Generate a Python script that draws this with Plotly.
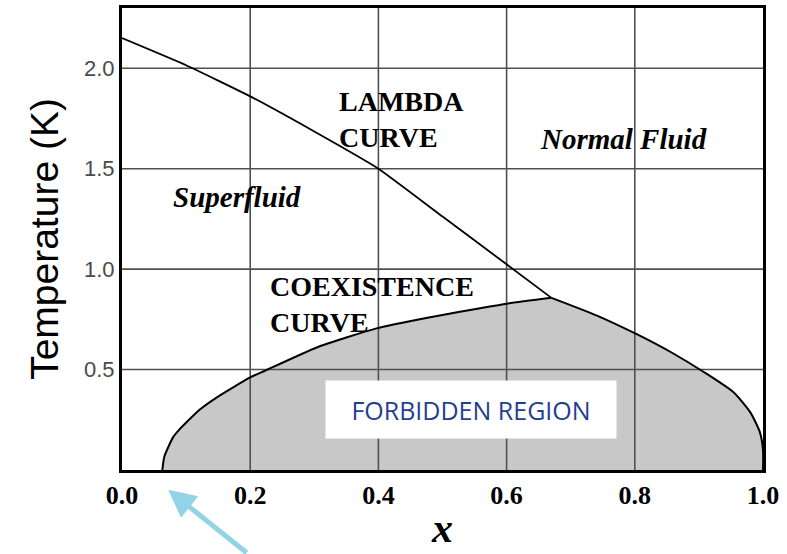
import plotly.graph_objects as go

# ---- data ----
x_ticks = [0.0, 0.2, 0.4, 0.6, 0.8, 1.0]
x_tick_labels = ["0.0", "0.2", "0.4", "0.6", "0.8", "1.0"]
y_ticks = [0.5, 1.0, 1.5, 2.0]
y_tick_labels = ["0.5", "1.0", "1.5", "2.0"]

lambda_x = [0.0, 0.1, 0.2, 0.3, 0.4, 0.5, 0.6, 0.67]
lambda_T = [2.15, 2.015, 1.86, 1.685, 1.50, 1.262, 1.024, 0.857]

# coexistence curve: left branch (up to tricritical point) and right branch
coex_left_x = [0.063, 0.066, 0.080, 0.089, 0.101, 0.121, 0.148, 0.200, 0.223, 0.304, 0.397,
               0.449, 0.50, 0.55, 0.60, 0.67]
coex_left_T = [0.0, 0.066, 0.165, 0.200, 0.239, 0.300, 0.362, 0.461, 0.494, 0.610, 0.705,
               0.741, 0.772, 0.800, 0.828, 0.857]
coex_right_x = [0.67, 0.74, 0.803, 0.86, 0.907, 0.954, 0.980, 0.995, 1.0, 1.0]
coex_right_T = [0.857, 0.770, 0.676, 0.580, 0.489, 0.387, 0.288, 0.190, 0.10, 0.0]

serif = "Liberation Serif, Times New Roman, serif"
sans = "Liberation Sans, Arial, sans-serif"
fill_grey = "#c8c8c8"

fig = go.Figure()

# forbidden region fill (each branch filled to T = 0)
for bx, bT in [(coex_left_x, coex_left_T), (coex_right_x, coex_right_T)]:
    fig.add_trace(go.Scatter(x=bx, y=bT, mode="lines", fill="tozeroy", fillcolor=fill_grey,
                             line=dict(width=0, shape="spline", smoothing=0.6),
                             hoverinfo="skip", showlegend=False))
# cover the seam between the two filled branches
fig.add_trace(go.Scatter(x=[coex_left_x[-1]] * 2, y=[0, coex_left_T[-1]], mode="lines",
                         line=dict(color=fill_grey, width=2), hoverinfo="skip", showlegend=False))

# grid lines drawn above fill
gx, gy = [], []
for v in x_ticks[1:-1]:
    gx += [v, v, None]
    gy += [0, 2.3, None]
for v in y_ticks:
    gx += [0, 1, None]
    gy += [v, v, None]
fig.add_trace(go.Scatter(x=gx, y=gy, mode="lines", line=dict(color="#505050", width=1.6),
                         hoverinfo="skip", showlegend=False))

# coexistence curve branches
for bx, bT in [(coex_left_x, coex_left_T), (coex_right_x, coex_right_T)]:
    fig.add_trace(go.Scatter(x=bx, y=bT, mode="lines",
                             line=dict(color="black", width=2, shape="spline", smoothing=0.6),
                             hoverinfo="skip", showlegend=False))
# lambda curve
fig.add_trace(go.Scatter(x=lambda_x, y=lambda_T, mode="lines",
                         line=dict(color="black", width=1.8, shape="spline", smoothing=0.4),
                         hoverinfo="skip", showlegend=False))

anns = [
    dict(x=0.335, y=1.747, text="<b>LAMBDA<br>CURVE</b>", xanchor="left", yanchor="middle",
         align="left", font=dict(family=serif, size=28, color="black")),
    dict(x=0.228, y=0.823, text="<b>COEXISTENCE<br>CURVE</b>", xanchor="left", yanchor="middle",
         align="left", font=dict(family=serif, size=28, color="black")),
    dict(x=0.649, y=1.646, text="<b><i>Normal Fluid</i></b>", xanchor="left", yanchor="middle",
         font=dict(family=serif, size=29, color="black")),
    dict(x=0.0765, y=1.36, text="<b><i>Superfluid</i></b>", xanchor="left", yanchor="middle",
         font=dict(family=serif, size=29, color="black")),
    dict(x=0.5445, y=0.299, text="FORBIDDEN REGION", xanchor="center", yanchor="middle",
         width=288, height=55, bgcolor="white",
         font=dict(family="Open Sans, sans-serif", size=25, color="#1f3f8f")),
    # arrow pointing at the left end of the coexistence curve (below the axis)
    dict(x=0.072, y=-0.043, xref="x", yref="paper", text="", showarrow=True, arrowhead=2,
         arrowsize=1.1, arrowwidth=5, arrowcolor="#93d3e8", ax=80, ay=72,
         axref="pixel", ayref="pixel"),
]
for a in anns:
    a.setdefault("showarrow", False)
    a.setdefault("xref", "x")
    a.setdefault("yref", "y")
    fig.add_annotation(**a)

fig.update_layout(
    width=787, height=554,
    margin=dict(l=122, r=24, t=5, b=84),
    paper_bgcolor="white", plot_bgcolor="white",
    xaxis=dict(range=[0, 1], tickvals=x_ticks, ticktext=["<b>%s</b>" % t for t in x_tick_labels],
               showgrid=False, zeroline=False, showline=True, linecolor="black", linewidth=3,
               mirror=True, ticks="", tickfont=dict(family=serif, size=26, color="black"),
               title=dict(text="<b><i>x</i></b>", font=dict(family=serif, size=42, color="black"),
                          standoff=4)),
    yaxis=dict(range=[0, 2.3], tickvals=y_ticks, ticktext=y_tick_labels, showgrid=False,
               zeroline=False, showline=True, linecolor="black", linewidth=3, mirror=True,
               ticks="", tickfont=dict(family=sans, size=22, color="#4a4a4a"),
               title=dict(text="Temperature (K)", font=dict(family=sans, size=39, color="black"),
                          standoff=14)),
)

fig.write_html("out.html", config={"displayModeBar": False},
               post_script="document.body.style.margin='0';")
